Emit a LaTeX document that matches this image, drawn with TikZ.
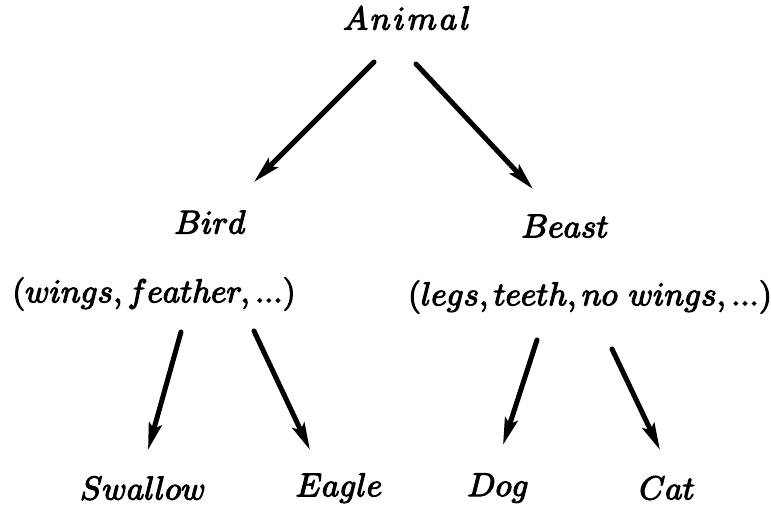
\documentclass[tikz,border=0pt]{standalone}
\usetikzlibrary{arrows.meta}
% slightly heavier glyphs: fill and stroke the outlines
\newcommand{\heavy}[1]{\special{pdf:literal direct 2 Tr 0.35 w}#1\special{pdf:literal direct 0 Tr}}
\begin{document}
\begin{tikzpicture}[x=1pt,y=-1pt,
  lbl/.style={inner sep=0pt,scale=3.3},
  arr/.style={line width=5pt,line cap=round,-{Stealth[length=27pt,width=13pt,inset=5pt]}}]
\useasboundingbox (0,0) rectangle (771,506);
% taxonomy labels
\node[lbl] (animal) at (407,18) {\heavy{$A\mkern1.6mu n\mkern1.6mu i\mkern1.6mu m\mkern1.6mu a\mkern1.6mu l$}};
\node[lbl] (bird)   at (210,222) {\heavy{$Bird$}};
\node[lbl] (beast)  at (565,226) {\heavy{$Beast$}};
\node[lbl] (birdattr)  at (154,294) {\heavy{$(wings,feather,...)$}};
\node[lbl] (beastattr) at (590,297) {\heavy{$(legs,teeth,no\ wings,...)$}};
\node[lbl] (swallow) at (143,488) {\heavy{$Swallow$}};
\node[lbl] (eagle)   at (339,488) {\heavy{$Eagle$}};
\node[lbl] (dog)     at (498,488) {\heavy{$Dog$}};
\node[lbl] (cat)     at (667,488) {\heavy{$Cat$}};
% is-a arrows
\draw[arr] ([shift={(-33,44)}]animal.center) -- ([shift={(44,-40)}]bird.center);
\draw[arr] ([shift={(9,46)}]animal.center) -- ([shift={(-32,-37)}]beast.center);
\draw[arr] ([shift={(-29,110)}]bird.center) -- ([shift={(5,-38)}]swallow.center);
\draw[arr] ([shift={(44,109)}]bird.center) -- ([shift={(-29,-38)}]eagle.center);
\draw[arr] ([shift={(-28,114)}]beast.center) -- ([shift={(5,-43)}]dog.center);
\draw[arr] ([shift={(47,123)}]beast.center) -- ([shift={(-7,-38)}]cat.center);
\end{tikzpicture}
\end{document}
